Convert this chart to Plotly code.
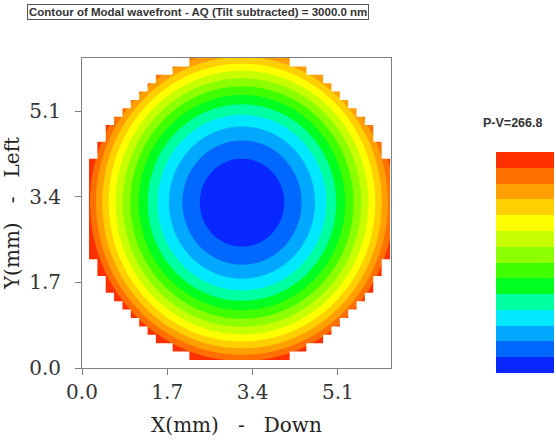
import numpy as np
import plotly.graph_objects as go

# ---------------- data ----------------
title_text = "Contour of Modal wavefront - AQ (Tilt subtracted) = 3000.0 nm"
pv_text = "P-V=266.8"
peak_to_valley_nm = 266.8

# band colours, lowest (centre) to highest (rim)
band_colors = [
    "#0828ff", "#0068ff", "#00a8ff", "#00e8ff", "#00ffa0", "#00ff20", "#40ff00",
    "#8cff00", "#c8ff00", "#ffff00", "#ffd000", "#ffa000", "#ff7000", "#ff3000",
]

tick_values = [0.0, 1.7, 3.4, 5.1]
tick_labels = ["0.0", "1.7", "3.4", "5.1"]
axis_range_mm = [0.0, 6.16]

# pupil (measurement aperture)
pupil_center_mm = [3.14, 3.16]
pupil_radius_mm = 3.0
mask_radius_mm = 3.06
cells_across = 36

# modal coefficients (nm) on normalised pupil coordinates
mode_names = ["tilt_x", "tilt_y", "defocus_rho2", "astig_0"]
mode_coeffs_nm = [-8.0, -19.0, 234.0, 9.0]

# ---------------- build field from the modal expansion ----------------
coef = dict(zip(mode_names, mode_coeffs_nm))
cx, cy = pupil_center_mm
R = pupil_radius_mm


def wavefront(x, y):
    u = (x - cx) / R
    v = (y - cy) / R
    return (coef["tilt_x"] * u + coef["tilt_y"] * v
            + coef["defocus_rho2"] * (u ** 2 + v ** 2)
            + coef["astig_0"] * (u ** 2 - v ** 2))


fx = np.linspace(0.0, 6.3, 316)
fy = np.linspace(0.0, 6.3, 316)
FX, FY = np.meshgrid(fx, fy)
W = wavefront(FX, FY)
inside_fine = (FX - cx) ** 2 + (FY - cy) ** 2 <= mask_radius_mm ** 2
wmin = float(W[inside_fine].min())

n_bands = len(band_colors)
cs = peak_to_valley_nm / n_bands
start = wmin + cs
end = wmin + (n_bands - 1) * cs + 1e-6
colorscale = [[j / (n_bands - 1), c] for j, c in enumerate(band_colors)]

# pixelated aperture outline: rows of cells whose centres lie in the pupil
cell = 2 * R / cells_across
kk = np.arange(cells_across)
centers = -R + (kk + 0.5) * cell
right_side = []
left_side = []
for j in range(cells_across):              # top row first
    yc = centers[cells_across - 1 - j]
    inside_cols = [c for c in centers if c * c + yc * yc <= mask_radius_mm ** 2]
    if not inside_cols:
        continue
    xl = cx + min(inside_cols) - cell / 2
    xr = cx + max(inside_cols) + cell / 2
    y1 = cy + yc + cell / 2
    y0 = cy + yc - cell / 2
    right_side += [(xr, y1), (xr, y0)]
    left_side += [(xl, y1), (xl, y0)]
hole = right_side + left_side[::-1]
big = [(-1.0, -1.0), (8.0, -1.0), (8.0, 8.0), (-1.0, 8.0), (-1.0, -1.0)]
mask_x = [p[0] for p in big] + [None] + [p[0] for p in hole] + [hole[0][0]]
mask_y = [p[1] for p in big] + [None] + [p[1] for p in hole] + [hole[0][1]]

fig = go.Figure()
fig.add_trace(go.Contour(
    x=fx, y=fy, z=W,
    autocontour=False,
    contours=dict(start=start, end=end, size=cs, coloring="fill", showlines=False),
    line=dict(width=0),
    colorscale=colorscale,
    zauto=False, zmin=wmin, zmax=wmin + peak_to_valley_nm,
    hoverinfo="skip",
    colorbar=dict(
        x=1.34, xanchor="left", y=0.697, yanchor="top",
        len=0.713, lenmode="fraction", thickness=58, thicknessmode="pixels",
        xpad=0, ypad=0, outlinewidth=0, showticklabels=False, ticks="",
    ),
))
fig.add_trace(go.Scatter(
    x=mask_x, y=mask_y, mode="lines", fill="toself",
    fillcolor="white", line=dict(width=0, color="white"),
    hoverinfo="skip", showlegend=False,
))

axis_common = dict(
    range=axis_range_mm, tickvals=tick_values, ticktext=tick_labels,
    ticks="outside", ticklen=6, tickcolor="#808080", tickwidth=1,
    showline=True, mirror=True, linecolor="#808080", linewidth=1,
    showgrid=False, zeroline=False, automargin=False,
    tickfont=dict(family="DejaVu Serif", size=20, color="#333333"),
)
fig.update_layout(
    width=556, height=440,
    margin=dict(l=82, r=165, t=58, b=72, autoexpand=False),
    paper_bgcolor="white", plot_bgcolor="white",
    showlegend=False,
    xaxis=dict(axis_common, title=dict(text="X(mm)   -   Down", standoff=14,
               font=dict(family="DejaVu Serif", size=20, color="#222222"))),
    yaxis=dict(axis_common, ticklabelstandoff=10,
               title=dict(text="Y(mm)   -   Left", standoff=8,
                          font=dict(family="DejaVu Serif", size=20, color="#222222"))),
    annotations=[
        dict(text=title_text, xref="paper", yref="paper", x=-0.178, y=1.174,
             xanchor="left", yanchor="top", showarrow=False,
             font=dict(family="Liberation Sans", size=11.5, color="#333333", weight="bold"),
             bordercolor="#555555", borderwidth=1, borderpad=1, bgcolor="white"),
        dict(text=pv_text, xref="paper", yref="paper", x=1.392, y=0.79,
             xanchor="center", yanchor="middle", showarrow=False,
             font=dict(family="Liberation Sans", size=12.5, color="#333333", weight="bold")),
    ],
)
fig.write_html("out.html", config={"displayModeBar": False},
               post_script="document.body.style.margin='0px';")
